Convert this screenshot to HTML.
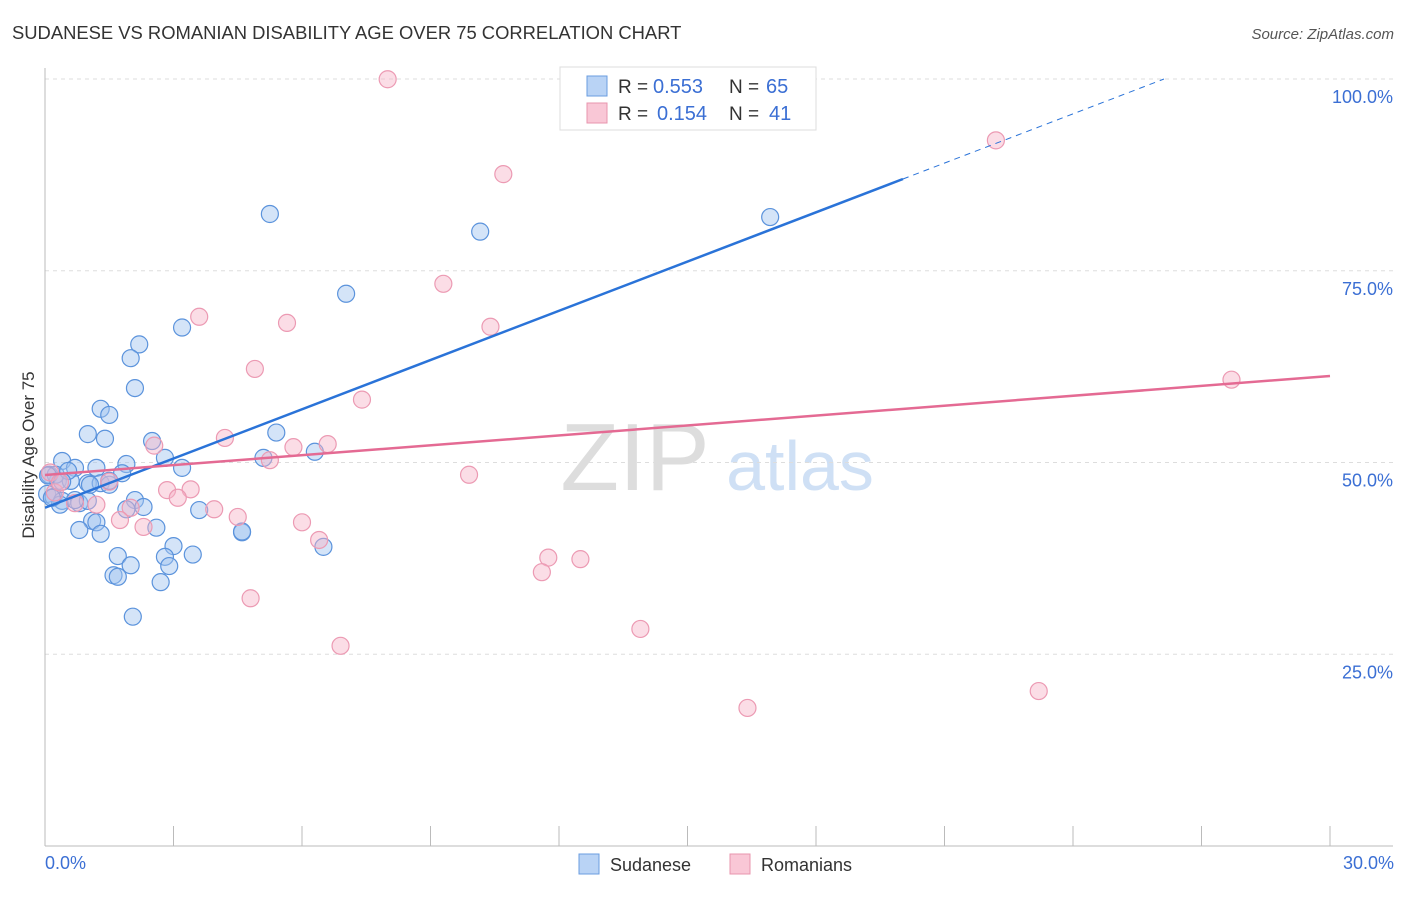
<!DOCTYPE html>
<html><head><meta charset="utf-8"><style>
body{margin:0;background:#fff;font-family:"Liberation Sans",sans-serif}
svg text{font-family:"Liberation Sans",sans-serif}
</style></head><body>
<svg id="c" width="1406" height="892" xmlns="http://www.w3.org/2000/svg">
<text x="12" y="39" font-size="18.4" fill="#333">SUDANESE VS ROMANIAN DISABILITY AGE OVER 75 CORRELATION CHART</text>
<text x="1394" y="39" font-size="15" fill="#555" text-anchor="end" font-style="italic">Source: ZipAtlas.com</text>
<text x="635" y="490" font-size="96" fill="#ddd" font-family="Liberation Serif" text-anchor="middle">ZIP</text>
<text x="800" y="490" font-size="70" fill="#cfe0f5" text-anchor="middle">atlas</text>
<g id="grid"></g><g id="axes"></g><g id="pts"></g><g id="lines"></g>
<text x="34" y="455" font-size="17" fill="#333" text-anchor="middle" transform="rotate(-90 34 455)">Disability Age Over 75</text>
<text x="45" y="869" font-size="18" fill="#3b6fd4">0.0%</text>
<text x="1394" y="869" font-size="18" fill="#3b6fd4" text-anchor="end">30.0%</text>
<g>
<rect x="560" y="67" width="256" height="63" fill="#fff" stroke="#ddd"/>
<rect x="587" y="76" width="20" height="20" fill="#b9d3f5" stroke="#6a9de0"/>
<rect x="587" y="103" width="20" height="20" fill="#f9c7d6" stroke="#e894ae"/>
<text x="618" y="93" font-size="19" fill="#333">R =</text>
<text x="653" y="93" font-size="20" fill="#3b6fd4">0.553</text>
<text x="729" y="93" font-size="19" fill="#333">N =</text>
<text x="766" y="93" font-size="20" fill="#3b6fd4">65</text>
<text x="618" y="120" font-size="19" fill="#333">R =</text>
<text x="657" y="120" font-size="20" fill="#3b6fd4">0.154</text>
<text x="729" y="120" font-size="19" fill="#333">N =</text>
<text x="769" y="120" font-size="20" fill="#3b6fd4">41</text>
</g>
<g>
<rect x="579" y="854" width="20" height="20" fill="#b9d3f5" stroke="#6a9de0"/>
<text x="610" y="871" font-size="18" fill="#333">Sudanese</text>
<rect x="730" y="854" width="20" height="20" fill="#f9c7d6" stroke="#e894ae"/>
<text x="761" y="871" font-size="18" fill="#333">Romanians</text>
</g>
</svg>
<script>
const yTicks=[25,50,75,100];
const yTickLabels=["25.0%","50.0%","75.0%","100.0%"];
const xTicks=[0,3,6,9,12,15,18,21,24,27,30];
const sudX=[5.25,10.16,16.93,7.03,3.2,2.2,2.0,2.1,1.3,1.5,1.0,1.4,2.5,2.8,3.2,5.4,5.1,6.3,0.4,0.7,1.2,1.9,1.8,0.1,0.3,0.6,1.0,1.3,1.5,0.05,0.2,0.4,0.8,1.0,0.35,2.1,2.3,1.9,3.6,1.1,1.2,0.8,1.3,2.6,3.0,4.6,4.6,1.7,2.0,2.8,3.45,2.9,6.5,1.6,1.7,2.7,2.05,0.25,0.07,1.05,0.54,1.5,0.4,0.16,0.7];
const sudY=[82.4,80.1,82.0,72.0,67.6,65.4,63.6,59.7,57.0,56.2,53.7,53.1,52.8,50.6,49.3,53.9,50.6,51.4,50.2,49.3,49.3,49.8,48.6,48.4,47.6,47.6,47.3,47.3,47.1,45.9,45.5,45.0,44.7,45.0,44.5,45.1,44.2,43.9,43.8,42.4,42.2,41.2,40.7,41.5,39.1,40.9,41.0,37.8,36.6,37.7,38.0,36.5,39.0,35.3,35.1,34.4,29.9,48.4,48.3,47.1,48.9,47.6,47.5,45.4,45.1];
const romX=[8.0,16.6,22.2,10.7,9.3,3.6,5.65,10.4,4.9,7.4,27.7,4.2,2.55,5.8,6.6,5.25,9.9,1.5,2.85,3.4,3.1,2.0,3.95,1.2,0.7,1.75,2.3,4.5,6.0,6.4,11.75,11.6,12.5,4.8,13.9,6.9,16.4,23.2,0.12,0.23,0.35];
const romY=[99.97,99.84,92.0,87.6,73.3,69.0,68.2,67.7,62.2,58.2,60.8,53.2,52.2,52.0,52.4,50.3,48.4,47.5,46.4,46.5,45.4,44.1,43.9,44.5,44.7,42.5,41.6,42.9,42.2,39.9,37.6,35.7,37.4,32.3,28.3,26.1,18.0,20.2,48.7,46.1,47.4];
const sudTrend=[44.1,86.96,20.03];
const romTrend=[48.37,61.28];
const NS="http://www.w3.org/2000/svg";
const X=v=>45+v/30*1285, Y=v=>846-v/100*767;
function mk(t,a,p){const e=document.createElementNS(NS,t);for(const k in a)e.setAttribute(k,a[k]);document.getElementById(p).appendChild(e);return e;}
yTicks.forEach((t,i)=>{
 const g=mk('line',{x1:45,x2:1393,y1:Y(t),y2:Y(t),stroke:'#ddd','stroke-dasharray':'4 4'},'grid');
 
 
 const l=mk('text',{x:1393,y:Y(t)+24,'font-size':18,fill:'#3b6fd4','text-anchor':'end'},'grid');
 l.textContent=yTickLabels[i];
 
 
});
const ax=mk('line',{x1:45,x2:1393,y1:846,y2:846,stroke:'#bbb'},'axes');


const ay=mk('line',{x1:45,x2:45,y1:68,y2:846,stroke:'#bbb'},'axes');


xTicks.forEach(t=>{const e=mk('line',{x1:X(t),x2:X(t),y1:826,y2:846,stroke:'#bbb'},'axes');
 
 });
sudX.forEach((x,i)=>{const c=mk('circle',{cx:X(x),cy:Y(sudY[i]),r:8.5,fill:'rgba(160,196,240,0.45)',stroke:'#5b93dc','stroke-width':1.2},'pts');
 
 });
romX.forEach((x,i)=>{const c=mk('circle',{cx:X(x),cy:Y(romY[i]),r:8.5,fill:'rgba(247,180,200,0.45)',stroke:'#ec9ab3','stroke-width':1.2},'pts');
 
 });
const sl=(sudTrend[1]-sudTrend[0])/sudTrend[2];
const b1=mk('line',{x1:X(0),y1:Y(sudTrend[0]),x2:X(sudTrend[2]),y2:Y(sudTrend[1]),stroke:'#2a73d8','stroke-width':2.5},'lines');


const xe=(100-sudTrend[0])/sl;
const b2=mk('line',{x1:X(sudTrend[2]),y1:Y(sudTrend[1]),x2:X(xe),y2:Y(100),stroke:'#2a73d8','stroke-width':1,'stroke-dasharray':'6 5'},'lines');


const r1=mk('line',{x1:X(0),y1:Y(romTrend[0]),x2:X(30),y2:Y(romTrend[1]),stroke:'#e46a93','stroke-width':2.5},'lines');


</script>
</body></html>
